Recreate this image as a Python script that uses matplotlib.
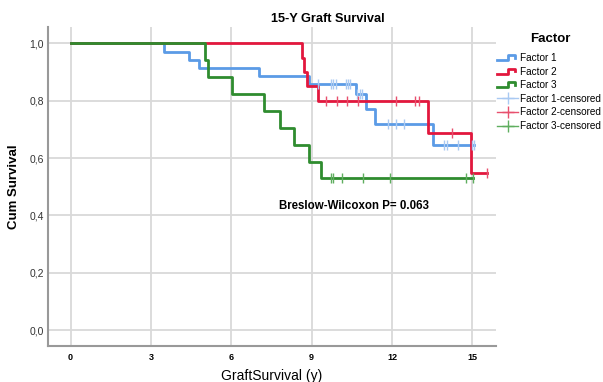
import matplotlib
matplotlib.use("Agg")
import matplotlib.pyplot as plt
from matplotlib.lines import Line2D
from matplotlib.legend_handler import HandlerBase
import numpy as np

plt.rcParams['font.family'] = ['Liberation Sans', 'DejaVu Sans']

# ---- data ----
groups = ["Factor 1", "Factor 2", "Factor 3"]

f1_times = [0, 3.50, 4.42, 4.81, 7.03, 8.91, 10.64, 11.03, 11.36, 13.54]
f1_surv = [1.0, 0.971, 0.943, 0.914, 0.886, 0.857, 0.823, 0.770, 0.718, 0.645]
f1_end = 15.06
f1_cens = [9.22, 9.72, 9.81, 9.89, 10.27, 10.34, 10.43, 10.70, 10.80, 10.89,
           11.85, 12.13, 12.44, 13.95, 14.04, 14.45, 14.97, 15.06]

f2_times = [0, 8.63, 8.73, 8.81, 9.22, 13.33, 14.94]
f2_surv = [1.0, 0.950, 0.900, 0.850, 0.800, 0.686, 0.549]
f2_end = 15.55
f2_cens = [9.53, 9.95, 10.31, 10.74, 12.13, 12.85, 13.00, 14.25, 15.55]

f3_times = [0, 5.02, 5.12, 6.04, 7.22, 7.82, 8.34, 8.91, 9.34]
f3_surv = [1.0, 0.941, 0.882, 0.824, 0.765, 0.706, 0.647, 0.588, 0.529]
f3_end = 15.03
f3_cens = [9.71, 9.81, 10.12, 10.93, 11.92, 14.75, 15.03]

x_ticks = [0, 3, 6, 9, 12, 15]
y_ticks = [0.0, 0.2, 0.4, 0.6, 0.8, 1.0]
y_ticklabels = ["0,0", "0,2", "0,4", "0,6", "0,8", "1,0"]

line_colors = ["#5b9be6", "#e2173d", "#2f8c2f"]
cens_colors = ["#a9c9f2", "#e8506e", "#5fae5f"]

series = [(f1_times, f1_surv, f1_end, f1_cens),
          (f2_times, f2_surv, f2_end, f2_cens),
          (f3_times, f3_surv, f3_end, f3_cens)]

fig = plt.figure(figsize=(6.03, 3.82), dpi=100)
ax = fig.add_axes([48/603, 1-346/382, (496-48)/603, (346-27)/382])

line_handles = []
cens_handles = []
for (t, s, end, cens), lc, cc, name in zip(series, line_colors, cens_colors, groups):
    tt = list(t) + [end]
    ss = list(s) + [s[-1]]
    ax.step(tt, ss, where='post', color=lc, lw=2.0, zorder=3)
    cv = [s[np.searchsorted(t, c, side='right') - 1] for c in cens]
    ax.plot(cens, cv, linestyle='none', marker='|', ms=7, mew=1.0, color=cc, zorder=4)
    line_handles.append(Line2D([], [], color=lc, lw=2.0))
    cens_handles.append(Line2D([], [], color=cc, lw=1.0, marker='+', ms=9, mew=1.0))

ax.set_xlim(-0.84, 15.88)
ax.set_ylim(-0.055, 1.057)
ax.set_xticks(x_ticks)
ax.set_xticklabels([str(v) for v in x_ticks], fontsize=6.5, fontweight='bold')
ax.set_yticks(y_ticks)
ax.set_yticklabels(y_ticklabels, fontsize=7.5, color='#333333')
ax.tick_params(axis='both', length=0)
ax.tick_params(axis='x', pad=5)
ax.tick_params(axis='y', pad=3)
ax.grid(True, color='#d9d9d9', lw=1.3, zorder=0)
ax.set_axisbelow(True)
for sp in ['top', 'right']:
    ax.spines[sp].set_visible(False)
for sp in ['left', 'bottom']:
    ax.spines[sp].set_color('#999999')
    ax.spines[sp].set_linewidth(1.5)

ax.set_xlabel("GraftSurvival (y)", fontsize=10, labelpad=5)
ax.set_ylabel("Cum Survival", fontsize=9.5, fontweight='bold', labelpad=7)

ax.text(7.78, 0.432, "Breslow-Wilcoxon P= 0.063", fontsize=8.3, fontweight='bold',
        ha='left', va='center')

fig.text(328/603, 1-19/382, "15-Y Graft Survival", fontsize=9.2, fontweight='bold',
         ha='center', va='center')


class StepHandler(HandlerBase):
    def create_artists(self, legend, orig_handle, xdescent, ydescent, width, height,
                       fontsize, trans):
        x0 = -xdescent
        y0 = -ydescent
        xs = [x0, x0 + width*0.5, x0 + width*0.5, x0 + width*0.85, x0 + width*0.85]
        ys = [y0 + height*0.15, y0 + height*0.15, y0 + height*0.85, y0 + height*0.85, y0 + height*0.45]
        l = Line2D(xs, ys, color=orig_handle.get_color(), lw=2.0, transform=trans)
        return [l]


handles = line_handles + cens_handles
labels = groups + [g + "-censored" for g in groups]
hmap = {h: StepHandler() for h in line_handles}
leg = fig.legend(handles, labels, handler_map=hmap, loc='upper left',
                 bbox_to_anchor=(497/603, 1-53/382), frameon=False, fontsize=7.2,
                 handlelength=2.1, handletextpad=0.15, labelspacing=0.36,
                 borderaxespad=0, borderpad=0)
fig.text(550/603, 1-39/382, "Factor", fontsize=9.5, fontweight='bold',
         ha='center', va='center')

fig.savefig("out.png", dpi=100)
